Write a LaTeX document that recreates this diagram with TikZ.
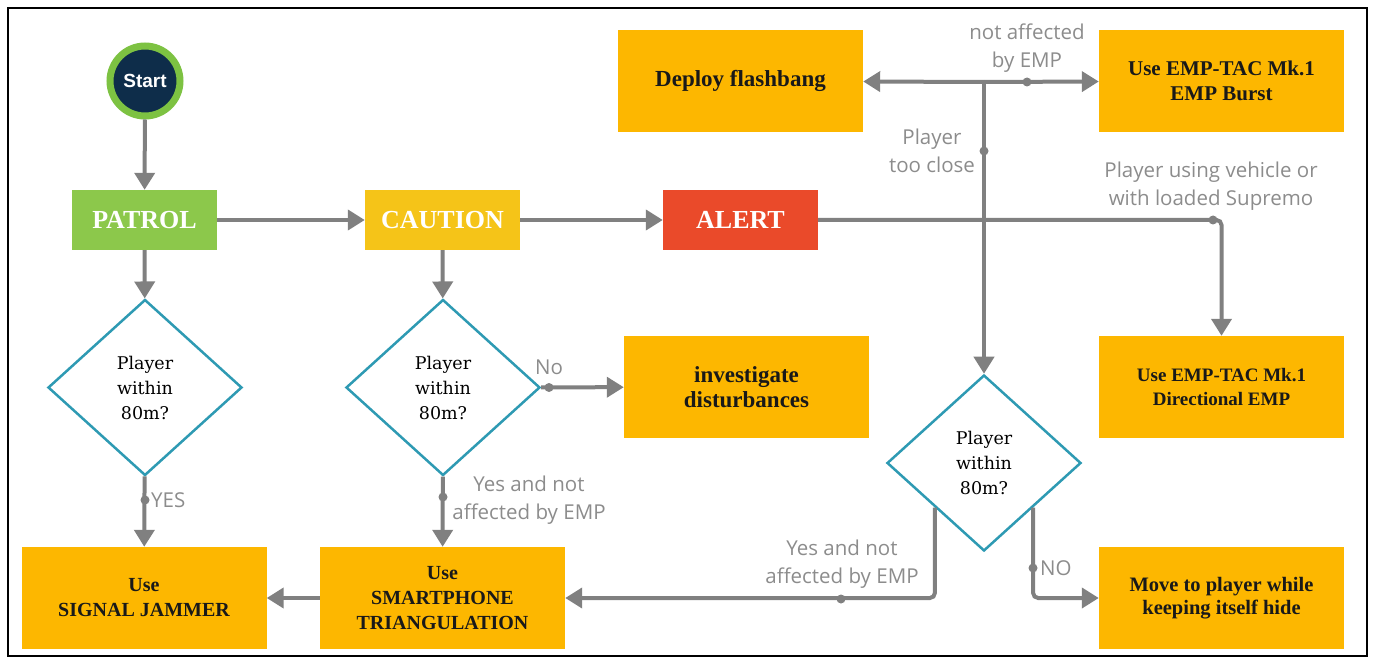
\documentclass[tikz,border=0pt]{standalone}
\usepackage{fontspec}
\usetikzlibrary{shapes.geometric,arrows.meta,calc}
\newfontfamily\boxfont{Liberation Serif}
\newfontfamily\labfont{Open Sans}
\newfontfamily\startfont{Liberation Sans}
\newfontfamily\dfont{DejaVu Serif}
\definecolor{boxorange}{RGB}{253,183,0}
\definecolor{cautionyellow}{RGB}{245,196,24}
\definecolor{patrolgreen}{RGB}{140,200,75}
\definecolor{alertred}{RGB}{234,74,42}
\definecolor{dteal}{RGB}{46,154,179}
\definecolor{lgray}{RGB}{128,128,128}
\definecolor{labgray}{RGB}{140,140,140}
\definecolor{navy}{RGB}{14,45,74}
\definecolor{sgreen}{RGB}{125,194,66}
\begin{document}
\begin{tikzpicture}[x=1pt,y=-1pt,
  box/.style={rectangle, fill=boxorange, inner sep=2pt, minimum width=245pt, minimum height=102pt, align=center, text=black!90, font=\boxfont\bfseries\fontsize{20}{25}\selectfont},
  state/.style={rectangle, inner sep=2pt, minimum height=60pt, text=white, font=\boxfont\bfseries\fontsize{26}{30}\selectfont},
  dec/.style={diamond, draw=dteal, line width=2.5pt, fill=white, minimum width=194pt, minimum height=176pt, inner sep=0pt, align=center, font=\dfont\fontsize{17.5}{25}\selectfont},
  conn/.style={draw=lgray, line width=4pt, -{Triangle[width=20pt,length=17pt]}},
  lab/.style={text=labgray, font=\labfont\fontsize{20.5}{28}\selectfont, align=center, inner sep=0pt},
  dot/.style={circle, fill=lgray, inner sep=0pt, minimum size=9pt}
]
\useasboundingbox (0,0) rectangle (1373,663);
\draw[line width=2pt] (8,8) rectangle (1367,656);

% nodes
\node[circle, fill=navy, draw=sgreen, line width=7pt, minimum size=70pt, inner sep=0pt, text=white, font=\startfont\bfseries\fontsize{19}{22}\selectfont] (start) at (145,81) {Start};
\node[state, fill=patrolgreen, minimum width=145pt] (patrol) at (144.5,220) {PATROL};
\node[state, fill=cautionyellow, minimum width=155pt] (caution) at (442.5,220) {CAUTION};
\node[state, fill=alertred, minimum width=155pt] (alert) at (740.5,220) {ALERT};
\node[box, font=\boxfont\bfseries\fontsize{23}{26}\selectfont] (flash) at (740.5,81) {Deploy flashbang};
\node[box, font=\boxfont\bfseries\fontsize{21}{25}\selectfont] (burst) at (1221.5,81) {Use EMP-TAC Mk.1\\EMP Burst};
\node[box, font=\boxfont\bfseries\fontsize{23}{25}\selectfont] (inv) at (746.5,387) {investigate\\disturbances};
\node[box, font=\boxfont\bfseries\fontsize{19}{24}\selectfont] (dir) at (1221.5,387) {Use EMP-TAC Mk.1\\Directional EMP};
\node[box, font=\boxfont\bfseries\fontsize{20.5}{23}\selectfont] (move) at (1221.5,598) {Move to player while\\keeping itself hide};
\node[box] (jam) at (144,598) {Use\\SIGNAL JAMMER};
\node[box] (smart) at (442.5,598) {Use\\SMARTPHONE\\TRIANGULATION};
\node[dec] (d1) at (145,387.5) {Player\\within\\80m?};
\node[dec] (d2) at (443,387.5) {Player\\within\\80m?};
\node[dec] (d3) at (984,463) {Player\\within\\80m?};
\coordinate (j) at (984,82);

% connectors
\draw[conn] (start) -- (patrol);
\draw[conn] (patrol) -- (caution);
\draw[conn] (caution) -- (alert);
\draw[conn] (patrol) -- (d1);
\draw[conn] (caution) -- (d2);
\draw[conn] (d1) -- (jam);
\draw[conn] (d2) -- (smart);
\draw[conn] (d2) -- (inv);
\draw[conn] (smart) -- (jam);
\draw[conn, rounded corners=5pt] (d3.south west) |- (smart);
\draw[conn, rounded corners=5pt] (d3.south east) |- (move);
\draw[conn, rounded corners=5pt] (alert) -| (dir);
\draw[conn] (j) -- (d3);
\draw[conn] (j) -- (flash);
\draw[conn] (j) -- (burst);

% dots
\node[dot] (k1) at (145,500) {};
\node[dot] (k2) at (443,497) {};
\node[dot] (k3) at (549,387.5) {};
\node[dot] (k4) at (841,599) {};
\node[dot] (k5) at (1033,568) {};
\node[dot] (k6) at (1213,220) {};
\node[dot] (k7) at (984,151) {};
\node[dot] (k8) at (1027,82) {};

% labels
\node[lab, anchor=west] (l1) at (151,500) {YES};
\node[lab] (l2) at (529,500) {Yes and not\\affected by EMP};
\node[lab] (l3) at (549,367) {No};
\node[lab] (l4) at (842,564) {Yes and not\\affected by EMP};
\node[lab, anchor=west] (l5) at (1040,568) {NO};
\node[lab] (l6) at (1211,186) {Player using vehicle or\\with loaded Supremo};
\node[lab] (l7) at (932,151) {Player\\too close};
\node[lab] (l8) at (1027,48) {not affected\\by EMP};
\end{tikzpicture}
\end{document}
